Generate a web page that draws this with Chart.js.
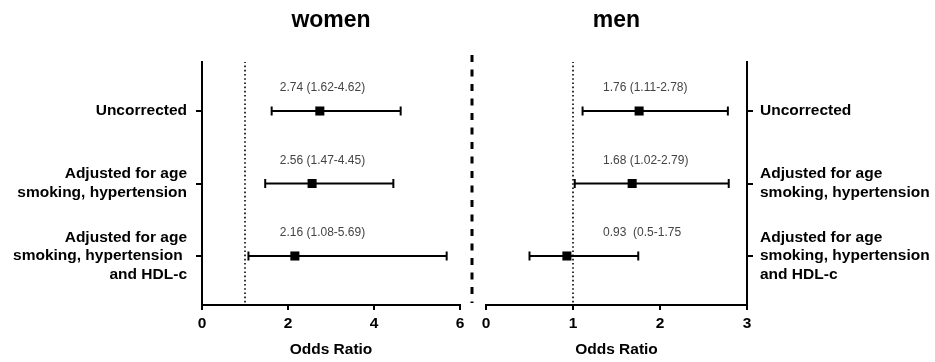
<!DOCTYPE html>
<html>
<head>
<meta charset="utf-8">
<script src="https://cdn.jsdelivr.net/npm/chart.js@4.4.1/dist/chart.umd.min.js"></script>
<style>
  html, body { margin: 0; padding: 0; background: #fff; }
  #wrap { position: relative; width: 935px; height: 362px; overflow: hidden; }
  .box { position: absolute; top: 0; height: 362px; }
  #divider { position: absolute; left: 0; top: 0; }
</style>
</head>
<body>
<div id="wrap">
  <div class="box" style="left:0;width:470px"><canvas id="women"></canvas></div>
  <div class="box" style="left:475px;width:460px"><canvas id="men"></canvas></div>
  <svg id="divider" width="935" height="362"><line x1="472" y1="55" x2="472" y2="303" stroke="#000" stroke-width="3" stroke-dasharray="7 7.5"/></svg>
</div>
<script>
// ---- data ----
const rowLabels = [
  ['Uncorrected'],
  ['Adjusted for age', 'smoking, hypertension'],
  ['Adjusted for age', 'smoking, hypertension ', 'and HDL-c']
];
const rowLabelsMen = [
  ['Uncorrected'],
  ['Adjusted for age', 'smoking, hypertension'],
  ['Adjusted for age', 'smoking, hypertension', 'and HDL-c']
];
const womenOR   = [2.74, 2.56, 2.16];
const womenLow  = [1.62, 1.47, 1.08];
const womenHigh = [4.62, 4.45, 5.69];
const womenText = ['2.74 (1.62-4.62)', '2.56 (1.47-4.45)', '2.16 (1.08-5.69)'];

const menOR   = [1.76, 1.68, 0.93];
const menLow  = [1.11, 1.02, 0.50];
const menHigh = [2.78, 2.79, 1.75];
const menText = ['1.76 (1.11-2.78)', '1.68 (1.02-2.79)', '0.93  (0.5-1.75'];

const womenTicks = [0, 2, 4, 6];
const menTicks = [0, 1, 2, 3];
const refLine = 1;

// row positions (top row = 3)
const rowY = [3, 2, 1];
const yMin = 0.324, yMax = 3.676;

const FONT = "'Liberation Sans', Arial, sans-serif";

function titlePlugin(text) {
  return {
    id: 'panelTitle',
    afterDraw(chart) {
      const {ctx, chartArea} = chart;
      ctx.save();
      ctx.font = 'bold 23px ' + FONT;
      ctx.fillStyle = '#000';
      ctx.textAlign = 'center';
      ctx.textBaseline = 'middle';
      ctx.fillText(text, (chartArea.left + chartArea.right) / 2, 21);
      ctx.restore();
    }
  };
}

function annotPlugin(texts, xVal) {
  return {
    id: 'annot',
    afterDatasetsDraw(chart) {
      const {ctx, scales} = chart;
      ctx.save();
      ctx.font = '12px ' + FONT;
      ctx.fillStyle = '#444';
      ctx.textAlign = 'left';
      ctx.textBaseline = 'middle';
      texts.forEach((t, i) => {
        ctx.fillText(t, scales.x.getPixelForValue(xVal), scales.y.getPixelForValue(rowY[i]) - 23);
      });
      ctx.restore();
    }
  };
}

function buildDatasets(or, lo, hi) {
  const ds = [];
  ds.push({
    type: 'line',
    data: [{x: refLine, y: 0.36}, {x: refLine, y: yMax}],
    borderColor: '#000', borderWidth: 1.6, borderDash: [1.6, 2.6],
    pointRadius: 0, fill: false
  });
  for (let i = 0; i < or.length; i++) {
    ds.push({
      type: 'line',
      data: [{x: lo[i], y: rowY[i]}, {x: hi[i], y: rowY[i]}],
      borderColor: '#000', borderWidth: 2,
      pointStyle: 'line', rotation: 90, pointRadius: 4.5,
      pointBorderWidth: 2, pointBorderColor: '#000', fill: false
    });
  }
  ds.push({
    type: 'scatter',
    data: or.map((v, i) => ({x: v, y: rowY[i]})),
    pointStyle: 'rect', pointRadius: 6.4,
    backgroundColor: '#000', borderColor: '#000', borderWidth: 0
  });
  return ds;
}

function makeChart(id, opts) {
  const {or, lo, hi, texts, labels, ticks, xMax, side, textX, title, padLeft, padRight, yWidth} = opts;
  return new Chart(document.getElementById(id), {
    data: { datasets: buildDatasets(or, lo, hi) },
    options: {
      responsive: true,
      maintainAspectRatio: false,
      animation: false,
      events: [],
      layout: { padding: { top: 62, left: padLeft, right: padRight, bottom: 0 } },
      plugins: { legend: { display: false }, tooltip: { enabled: false }, title: { display: false } },
      scales: {
        x: {
          type: 'linear', min: 0, max: xMax,
          afterBuildTicks(scale) { scale.ticks = ticks.map(v => ({value: v})); },
          afterFit(scale) { scale.height = 57; },
          border: { display: true, color: '#000', width: 2 },
          grid: { drawOnChartArea: false, drawTicks: true, tickLength: 5, color: '#000', lineWidth: 2 },
          ticks: { color: '#000', padding: 4, font: { family: FONT, size: 15.5, weight: 'bold' }, maxRotation: 0 },
          title: { display: true, text: 'Odds Ratio', color: '#000', padding: { top: 0, bottom: 3 },
                   font: { family: FONT, size: 15.5, weight: 'bold' } }
        },
        y: {
          type: 'linear', position: side, min: yMin, max: yMax,
          afterBuildTicks(scale) { scale.ticks = rowY.map(v => ({value: v})); },
          afterFit(scale) { scale.width = yWidth; },
          border: { display: true, color: '#000', width: 2 },
          grid: { drawOnChartArea: false, drawTicks: true, tickLength: 6, color: '#000', lineWidth: 2 },
          ticks: {
            color: '#000', padding: side === 'left' ? 9 : 7, autoSkip: false,
            font: { family: FONT, size: 15.5, weight: 'bold', lineHeight: 1.2 },
            callback(v) { const i = rowY.indexOf(v); return i >= 0 ? labels[i] : ''; }
          }
        }
      }
    },
    plugins: [titlePlugin(title), annotPlugin(texts, textX)]
  });
}

makeChart('women', {
  or: womenOR, lo: womenLow, hi: womenHigh, texts: womenText, labels: rowLabels,
  ticks: womenTicks, xMax: 6, side: 'left', textX: 1.81, title: 'women',
  padLeft: 0, padRight: 10, yWidth: 202
});
makeChart('men', {
  or: menOR, lo: menLow, hi: menHigh, texts: menText, labels: rowLabelsMen,
  ticks: menTicks, xMax: 3, side: 'right', textX: 1.345, title: 'men',
  padLeft: 11, padRight: 0, yWidth: 188
});
</script>
</body>
</html>
